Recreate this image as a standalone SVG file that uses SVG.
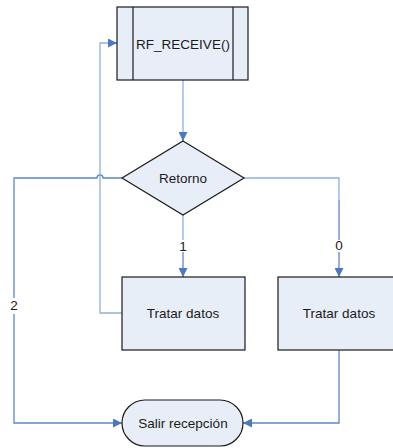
<svg xmlns="http://www.w3.org/2000/svg" width="393" height="448" viewBox="0 0 393 448">
<style>
.node{fill:#E8EEF7;stroke:#1a1a1a;stroke-width:1.2}
.t{font-family:"Liberation Sans",Arial,sans-serif;font-size:13.5px;fill:#1a1a1a;text-anchor:middle}
.lt{stroke:#8DB0E2;stroke-width:1.3;fill:none}
.dk{stroke:#5A86CC;stroke-width:1.3;fill:none}
.lab{fill:#fff}
</style>
<defs>
<marker id="ah" viewBox="0 0 10 10" refX="10" refY="5" markerWidth="9" markerHeight="9" markerUnits="userSpaceOnUse" orient="auto">
<path d="M0,0 L10,5 L0,10 z" fill="#4A78C4"/>
</marker>
</defs>
<g id="connectors">
<path class="lt" d="M183,80 V132"/>
<path class="dk" d="M183,132 V141" marker-end="url(#ah)"/>
<path class="lt" d="M183,215 V240"/>
<path class="dk" d="M183,252 V277" marker-end="url(#ah)"/>
<path class="lt" d="M243,178 H339 V200"/>
<path class="dk" d="M339,200 V240"/>
<path class="dk" d="M339,252 V277" marker-end="url(#ah)"/>
<path class="dk" d="M122,178 H103 A3,3 0 0 0 97,178 H14 V298"/>
<path class="dk" d="M14,314 V423 H122" marker-end="url(#ah)"/>
<path class="lt" d="M122,313 H100 V43 H108"/>
<path class="dk" d="M108,43 H117" marker-end="url(#ah)"/>
<path class="dk" d="M339,350 V423 H243" marker-end="url(#ah)"/>
<text class="t" x="183" y="251">1</text>
<text class="t" x="339" y="250">0</text>
<text class="t" x="14" y="310">2</text>
</g>
<g id="rf_receive">
<rect class="node" x="117" y="7" width="131" height="73"/>
<line class="node" x1="133" y1="7" x2="133" y2="80"/>
<line class="node" x1="233" y1="7" x2="233" y2="80"/>
<text class="t" x="183" y="49">RF_RECEIVE()</text>
</g>
<g id="retorno">
<polygon class="node" points="183,141 244,178 183,215 122,178"/>
<text class="t" x="183" y="183">Retorno</text>
</g>
<g id="tratar1">
<rect class="node" x="122" y="277" width="123" height="73"/>
<text class="t" x="183" y="318">Tratar datos</text>
</g>
<g id="tratar2">
<rect class="node" x="278" y="277" width="122" height="73"/>
<text class="t" x="339" y="318">Tratar datos</text>
</g>
<g id="salir">
<rect class="node" x="122" y="400" width="121" height="46" rx="23" ry="23"/>
<text class="t" x="183" y="428">Salir recepción</text>
</g>
</svg>
